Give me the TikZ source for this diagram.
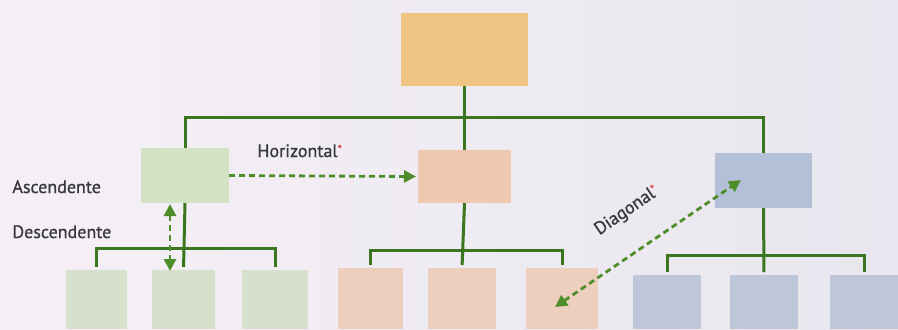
\documentclass[tikz,border=0pt]{standalone}
\usepackage{fontspec}
\setmainfont{PT Sans}[FakeBold=0.8]
\newfontfamily\lblfont{PT Sans}[FakeBold=0.8]
\usetikzlibrary{arrows.meta}
\definecolor{bgL}{RGB}{246,240,246}
\definecolor{bgR}{RGB}{232,230,238}
\definecolor{cTop}{RGB}{240,196,130}
\definecolor{cGreen}{RGB}{212,226,196}
\definecolor{cPeach}{RGB}{240,200,176}
\definecolor{cBlue}{RGB}{180,192,216}
\definecolor{cGreenL}{RGB}{214,224,204}
\definecolor{cPeachL}{RGB}{238,206,188}
\definecolor{cBlueL}{RGB}{190,198,218}
\definecolor{treeGreen}{RGB}{58,118,30}
\definecolor{arrGreen}{RGB}{78,142,42}
\definecolor{txt}{RGB}{55,55,62}
\definecolor{star}{RGB}{220,90,90}
\newcommand{\redstar}{\textcolor{star}{\raisebox{0.4ex}{\fontsize{6}{6}\selectfont*}}}
\begin{document}
\begin{tikzpicture}[x=0.5pt,y=-0.5pt,
  box/.style={draw=none,inner sep=0pt,outer sep=0pt},
  tree/.style={draw=treeGreen,line width=1.5pt},
  arr/.style={draw=arrGreen,line width=1.4pt,dash pattern=on 3pt off 2pt,
     arrows={-{Triangle[length=6pt,width=6pt]}}},
  darr/.style={draw=arrGreen,line width=1.4pt,dash pattern=on 3pt off 2pt,
     arrows={{Triangle[length=6pt,width=6pt]}-{Triangle[length=6pt,width=6pt]}}},
  lbl/.style={text=txt,font=\lblfont\fontsize{9}{10}\selectfont,inner sep=0pt}]
\shade[left color=bgL,right color=bgR] (0,0) rectangle (898,329);
\useasboundingbox (0,0) rectangle (898,329);
% level 1
\node[box,fill=cTop,minimum width=63.5pt,minimum height=36.5pt] (top) at (464.5,49.5) {};
% level 2
\node[box,fill=cGreen,minimum width=44pt,minimum height=27.5pt] (g2) at (185,175.5) {};
\node[box,fill=cPeach,minimum width=46.5pt,minimum height=26.5pt] (p2) at (464.5,176.5) {};
\node[box,fill=cBlue,minimum width=48.5pt,minimum height=27.5pt] (b2) at (763.5,180.5) {};
% level 3
\node[box,fill=cGreenL,minimum width=30.5pt,minimum height=29.5pt] (g3a) at (96.5,299.5) {};
\node[box,fill=cGreenL,minimum width=31.5pt,minimum height=29.5pt] (g3b) at (183.5,299.5) {};
\node[box,fill=cGreenL,minimum width=33pt,minimum height=29.5pt] (g3c) at (275,299.5) {};
\node[box,fill=cPeachL,minimum width=32.5pt,minimum height=30.5pt] (p3a) at (370.5,298.5) {};
\node[box,fill=cPeachL,minimum width=34pt,minimum height=30.5pt] (p3b) at (462,298.5) {};
\node[box,fill=cPeachL,minimum width=36pt,minimum height=30.5pt] (p3c) at (562,298.5) {};
\node[box,fill=cBlueL,minimum width=34pt,minimum height=27pt] (b3a) at (667,302) {};
\node[box,fill=cBlueL,minimum width=34pt,minimum height=27pt] (b3b) at (764,302) {};
\node[box,fill=cBlueL,minimum width=34pt,minimum height=27pt] (b3c) at (864,302) {};
% tree lines level 1-2
\coordinate (bus1) at (464.5,117);
\draw[tree] (top.south) -- (p2.north);
\draw[tree] (g2.north) -- (g2.north |- bus1) -- (b2.north |- bus1) -- (b2.north);
% tree lines level 2-3
\coordinate (busG) at (183.5,248);
\coordinate (busP) at (464.5,250);
\coordinate (busB) at (763.5,255);
\draw[tree,shorten >=1.5pt] (g2.south) -- (g3b.north);
\draw[tree,shorten <=1.5pt,shorten >=1.5pt] (g3a.north) -- (g3a.north |- busG) -- (g3c.north |- busG) -- (g3c.north);
\draw[tree,shorten >=1.5pt] (p2.south) -- (p3b.north);
\draw[tree,shorten <=1.5pt,shorten >=1.5pt] (p3a.north) -- (p3a.north |- busP) -- (p3c.north |- busP) -- (p3c.north);
\draw[tree,shorten >=1.5pt] (b2.south) -- (b3b.north);
\draw[tree,shorten <=1.5pt,shorten >=1.5pt] (b3a.north) -- (b3a.north |- busB) -- (b3c.north |- busB) -- (b3c.north);
% arrows
\draw[arr,shorten >=1pt] (g2.east) -- (p2.west);
\draw[darr] ([xshift=-7.5pt,yshift=-0.5pt]g2.south) -- ([xshift=-6.75pt,yshift=-0.5pt]g3b.north);
\draw[darr] ([xshift=-3.5pt,yshift=-4.25pt]p3c.center) -- ([xshift=-11.25pt,yshift=0.25pt]b2.center);
% labels
\node[lbl,anchor=base west] (hl) at (257,157) {Horizontal\redstar};
\node[lbl,anchor=base west] (asc) at (12,193) {Ascendente};
\node[lbl,anchor=base west] (desc) at (12,238) {Descendente};
\node[lbl,rotate=34.5] (dl) at (627,211) {Diagonal\redstar};
\end{tikzpicture}
\end{document}
